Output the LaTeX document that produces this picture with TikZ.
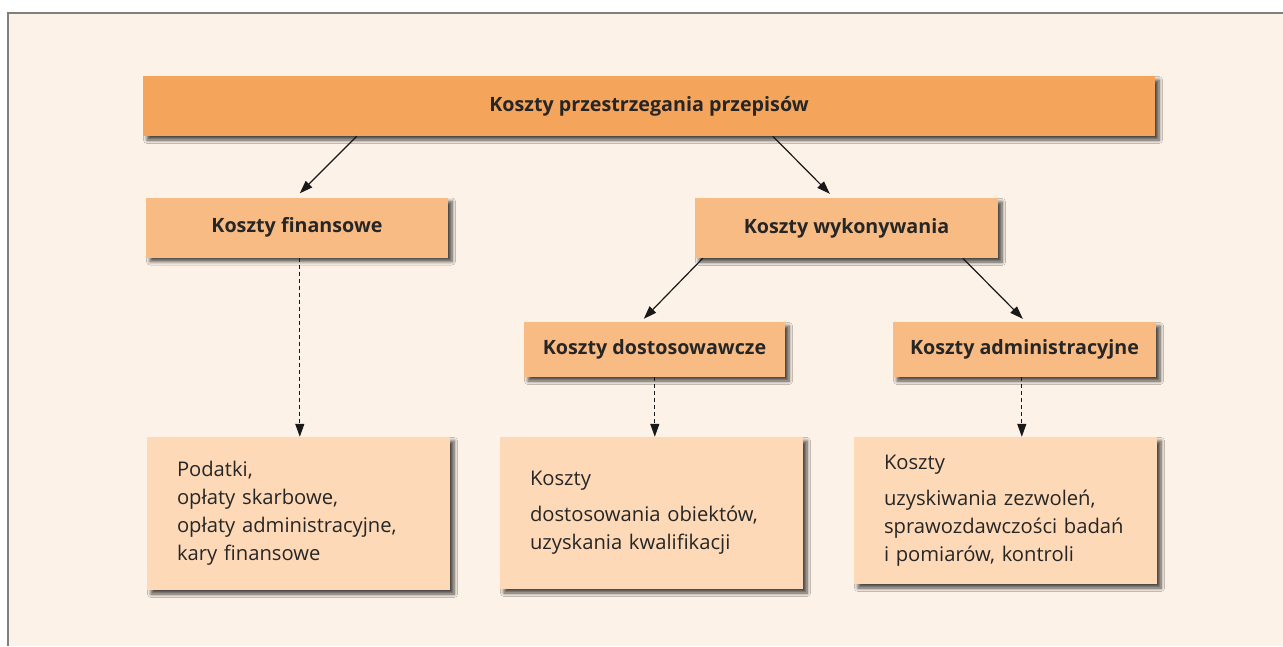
\documentclass[tikz,border=0pt]{standalone}
\usepackage{fontspec}
\setmainfont{Open Sans}
\usepackage{tikz}
\usetikzlibrary{positioning, arrows.meta, shadows.blur}
\definecolor{Tlo}{RGB}{253,242,232}
\definecolor{Ramka}{RGB}{128,128,128}
\definecolor{Pom1}{RGB}{245,164,92}
\definecolor{Pom2}{RGB}{249,187,132}
\definecolor{Pom3}{RGB}{253,217,183}

\begin{document}
\begin{tikzpicture}[x=1pt, y=-1pt,
    cien/.style={blur shadow={shadow xshift=4pt, shadow yshift=-4pt,
                shadow blur steps=6, shadow blur radius=3.5pt, shadow opacity=70}},
    glowny/.style={rectangle, fill=Pom1, cien,
                minimum width=1012pt, minimum height=60pt,
                font=\fontsize{19.7}{23}\selectfont\bfseries, text=black!85},
    kat/.style={rectangle, fill=Pom2, cien,
                minimum height=60pt, inner sep=0pt,
                font=\fontsize{19.7}{23}\selectfont\bfseries, text=black!85},
    opis/.style={rectangle, fill=Pom3, cien,
                minimum width=303pt, text width=243pt, inner xsep=30pt,
                align=left, font=\fontsize{20.2}{28}\selectfont, text=black!85},
    arr/.style={-{Triangle[length=13pt, width=9pt]}, line width=1.2pt, black!90},
    darr/.style={-{Triangle[length=13pt, width=9pt]}, line width=1.2pt, black!90,
                dash pattern=on 4pt off 3pt}]

  %--- Tlo i ramka ---
  \useasboundingbox (0,0) rectangle (1283,646);
  \fill[Tlo] (8,13) rectangle (1283,646);
  \draw[Ramka, line width=2pt] (8,646) -- (8,13) -- (1283,13);

  %--- Poziom 1 ---
  \node[glowny] (top) at (649,106) {Koszty przestrzegania przepisów};

  %--- Poziom 2 ---
  \node[kat, minimum width=302pt] (fin) at (297,227.5) {Koszty finansowe};
  \node[kat, minimum width=303pt] (wyk) at (846.5,228) {Koszty wykonywania};

  %--- Poziom 3 ---
  \node[kat, minimum width=261pt, minimum height=55pt] (dost) at (654.5,349.5) {Koszty dostosowawcze};
  \node[kat, minimum width=263pt, minimum height=55pt] (adm)  at (1024.5,349.5) {Koszty administracyjne};

  %--- Opisy ---
  \node[opis, minimum height=153pt] (finD)  at (298.5,513.5)
    {Podatki,\\opłaty skarbowe,\\opłaty administracyjne,\\kary finansowe};
  \node[opis, minimum height=152pt] (dostD) at (651.5,513)
    {Koszty\\[8pt]dostosowania obiektów,\\uzyskania kwalifikacji};
  \node[opis, minimum height=147pt] (admD)  at (1005.5,510.5)
    {Koszty\\[8pt]uzyskiwania zezwoleń,\\sprawozdawczości badań\\i pomiarów, kontroli};

  %--- Strzalki ---
  \draw[arr] ([xshift=214pt]top.south west) -- ([xshift=154pt, yshift=4pt]fin.north west);
  \draw[arr] ([xshift=630pt]top.south west) -- ([xshift=135pt, yshift=4pt]wyk.north west);
  \draw[arr] ([xshift=8pt]wyk.south west)   -- ([xshift=120pt, yshift=3pt]dost.north west);
  \draw[arr] ([xshift=268pt]wyk.south west) -- ([xshift=130pt, yshift=3pt]adm.north west);

  \draw[darr] ([xshift=154pt]fin.south west)  -- ([xshift=153pt]finD.north west);
  \draw[darr] ([xshift=131pt]dost.south west) -- ([xshift=155pt]dostD.north west);
  \draw[darr] ([xshift=129pt]adm.south west)  -- ([xshift=168pt]admD.north west);
\end{tikzpicture}
\end{document}
